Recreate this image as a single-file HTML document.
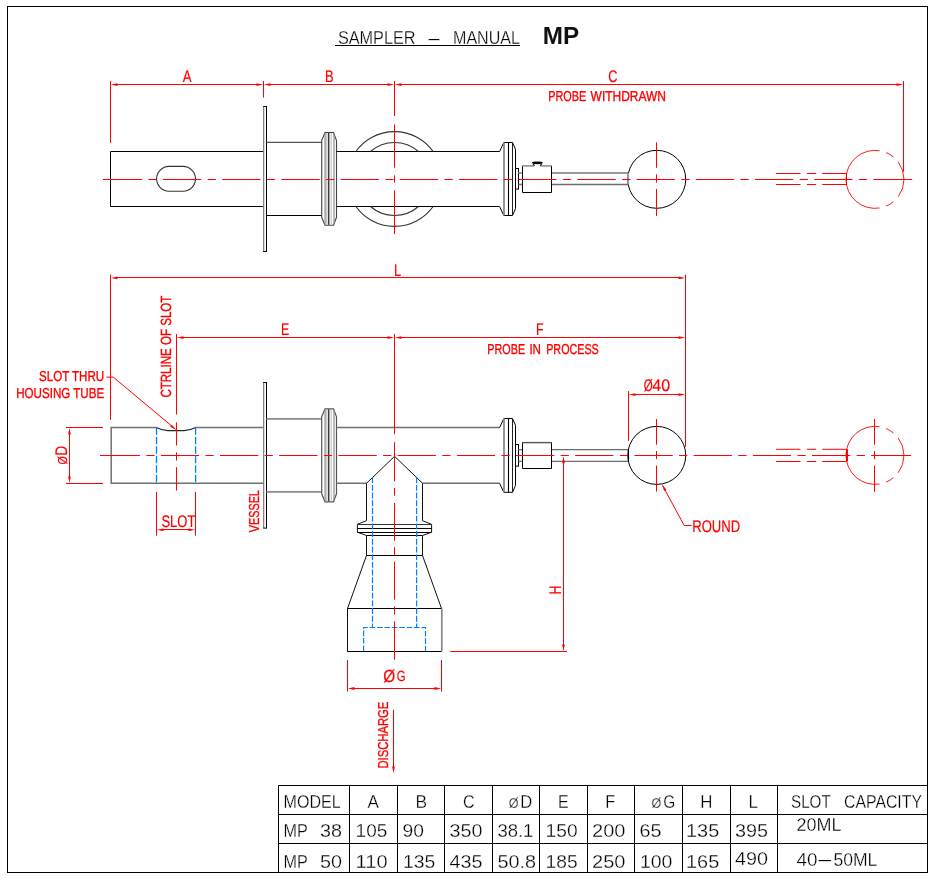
<!DOCTYPE html>
<html lang="en">
<head>
<meta charset="utf-8">
<title>Sampler - Manual MP</title>
<style>
html,body{margin:0;padding:0;background:#ffffff;}
body{width:934px;height:879px;overflow:hidden;}
svg{display:block;will-change:transform;}
svg text{font-family:"Liberation Sans",sans-serif;white-space:pre;}
.gp,.r{text-rendering:geometricPrecision;}
.gp{stroke:#ff0000;stroke-width:0.2px;}
.r{stroke:#ff0000;stroke-width:0.35px;}
.thin{stroke:#ffffff;stroke-width:0.3px;}
</style>
</head>
<body>
<svg width="934" height="879" viewBox="0 0 934 879">
<rect x="0" y="0" width="934" height="879" fill="#ffffff"/>
<rect x="7.5" y="6.5" width="920" height="866" fill="none" stroke="#000000" stroke-width="1"/>
<text class="thin" font-size="19.0" fill="#000000"><tspan x="337.9" y="44.1" textLength="77.6" lengthAdjust="spacingAndGlyphs">SAMPLER</tspan> <tspan x="428.6" y="43.5" textLength="11" lengthAdjust="spacingAndGlyphs">–</tspan> <tspan x="453" y="44.1" textLength="67" lengthAdjust="spacingAndGlyphs">MANUAL</tspan></text>
<line x1="335" y1="45.5" x2="520" y2="45.5" stroke="#000000" stroke-width="1"/>
<text x="542.7" y="44.4" font-size="24" fill="#111111" textLength="36.4" lengthAdjust="spacingAndGlyphs" font-weight="bold">MP</text>
<path d="M263.5 151.5H110.5V206.5H263.5" stroke="#000000" stroke-width="1" fill="none"/>
<rect x="156.6" y="166.4" width="38.9" height="24.9" rx="12.45" ry="12.45" fill="none" stroke="#333" stroke-width="1.1"/>
<rect x="263.7" y="106.5" width="2.8" height="145" fill="#fff" stroke="none"/>
<path d="M263.7 106.5V251.5" stroke="#707070" stroke-width="1.1" fill="none"/>
<path d="M263.2 106.5H267 M263.2 251.5H267 M266.5 106.5V251.5" stroke="#000000" stroke-width="1" fill="none"/>
<line x1="266.5" y1="142.4" x2="321.7" y2="142.4" stroke="#555" stroke-width="1.2"/>
<line x1="266.5" y1="215.5" x2="321.7" y2="215.5" stroke="#000000" stroke-width="1"/>
<path d="M321.7 140.5L325 132.5H333.5L336.5 140.5V217.3L333.5 225.3H325L321.7 217.3Z" stroke="#444" stroke-width="1.1" fill="#fff"/>
<path d="M325.1 133.0V224.8" stroke="#8a8a8a" stroke-width="1.2" fill="none"/>
<path d="M326.8 133.0V224.8" stroke="#bbbbbb" stroke-width="1" fill="none"/>
<path d="M328.7 133.0V224.8" stroke="#3a3a3a" stroke-width="1.5" fill="none"/>
<path d="M331.2 133.0V224.8" stroke="#bbbbbb" stroke-width="1" fill="none"/>
<path d="M334.0 133.0V224.8" stroke="#8a8a8a" stroke-width="1.2" fill="none"/>
<line x1="336.5" y1="151.5" x2="499.6" y2="151.5" stroke="#000000" stroke-width="1"/>
<line x1="336.5" y1="206.5" x2="499.6" y2="206.5" stroke="#000000" stroke-width="1"/>
<path d="M499.6 151.5L503.8 142.5 M499.6 206.5L503.8 215.5" stroke="#000000" stroke-width="1" fill="none"/>
<path d="M503.8 142.5H512.5L515.5 149.3V208.7L512.5 215.5H503.8" stroke="#000000" stroke-width="1" fill="none"/>
<path d="M504.0 142.5V215.5" stroke="#8a8a8a" stroke-width="1.8" fill="none"/>
<path d="M508.5 142.5V215.5" stroke="#000000" stroke-width="1.1" fill="none"/>
<path d="M512.5 142.5V215.5" stroke="#222" stroke-width="1" fill="none"/>
<rect x="515.5" y="168.5" width="3" height="20.6" fill="#fff" stroke="#000000" stroke-width="1"/>
<path d="M518.5 173.05H522.5 M551.5 173.05H628.6" stroke="#999999" stroke-width="1.9" fill="none"/>
<path d="M518.5 184.6H522.5 M551.5 184.6H628.6" stroke="#6e6e6e" stroke-width="1.5" fill="none"/>
<path d="M522.5 165.7V192.5H551.5V165.7" stroke="#000000" stroke-width="1" fill="none"/>
<path d="M522.5 165.85H534.2 M540.2 165.85H551.5" stroke="#999999" stroke-width="1.9" fill="none"/>
<ellipse cx="537.35" cy="162.85" rx="5.5" ry="1.35" fill="#000"/>
<path d="M532.9 163.6L534.5 165.7 M541.8 163.6L540.1 165.7" stroke="#111" stroke-width="1.1" fill="none"/>
<circle cx="656.75" cy="179.3" r="29" fill="none" stroke="#000" stroke-width="1"/>
<path d="M628.2 173V184.6" stroke="#999999" stroke-width="1.8" fill="none"/>
<path d="M355.89 151.5A47.4 47.4 0 0 1 433.11 151.5" stroke="#333" stroke-width="1.1" fill="none"/>
<path d="M355.89 206.5A47.4 47.4 0 0 0 433.11 206.5" stroke="#333" stroke-width="1.1" fill="none"/>
<path d="M370.50 151.5A36.5 36.5 0 0 1 418.50 151.5" stroke="#333" stroke-width="1.1" fill="none"/>
<path d="M370.50 206.5A36.5 36.5 0 0 0 418.50 206.5" stroke="#333" stroke-width="1.1" fill="none"/>
<path d="M103 179.5H142.1 M148.5 179.5H156.7 M163.0 179.5H201.3 M207.7 179.5H215.9 M222.2 179.5H260.5 M266.9 179.5H275.1 M281.4 179.5H319.7 M326.1 179.5H334.3 M340.6 179.5H378.9 M385.3 179.5H393.5 M399.8 179.5H438.1 M444.5 179.5H452.7 M459.0 179.5H497.3 M503.7 179.5H511.9 M518.2 179.5H556.5 M562.9 179.5H571.1 M577.4 179.5H615.7 M622.1 179.5H630.3 M636.6 179.5H674.9 M681.3 179.5H689.5 M695.8 179.5H734.1 M740.5 179.5H748.7 M755.0 179.5H793.3 M799.7 179.5H807.9 M814.2 179.5H852.5 M858.9 179.5H867.1 M873.4 179.5H912.2" stroke="#ff0000" stroke-width="1" fill="none"/>
<path d="M394.5 124.5V167.7 M394.5 175.4V182.6 M394.5 190.3V234" stroke="#ff0000" stroke-width="1" fill="none"/>
<path d="M656.5 142.3V167.8 M656.5 174.4V182.6 M656.5 189V216" stroke="#ff0000" stroke-width="1" fill="none"/>
<path d="M776.1 173.5H800.5 M806.9 173.5H816.2 M822.2 173.5H846.3" stroke="#ff0000" stroke-width="1" fill="none"/>
<path d="M776.1 184.5H800.5 M806.9 184.5H816.2 M822.2 184.5H846.3" stroke="#ff0000" stroke-width="1" fill="none"/>
<path d="M879.54 150.71A29.0 29.0 0 1 0 879.54 207.99 M898.16 196.80A29.0 29.0 0 0 0 898.16 161.90 M893.45 156.97A29.0 29.0 0 0 0 886.10 152.56 M886.10 206.14A29.0 29.0 0 0 0 893.45 201.73" stroke="#ff0000" stroke-width="0.9" fill="none"/>
<path d="M846.5 173V185" stroke="#ff0000" stroke-width="1" fill="none"/>
<line x1="116.5" y1="84.5" x2="257.5" y2="84.5" stroke="#ff0000" stroke-width="1"/>
<polygon points="110.90,84.60 117.50,83.20 117.50,86.00" fill="#ff0000"/>
<polygon points="263.10,84.60 256.50,86.00 256.50,83.20" fill="#ff0000"/>
<line x1="269.5" y1="84.5" x2="388.5" y2="84.5" stroke="#ff0000" stroke-width="1"/>
<polygon points="263.90,84.60 270.50,83.20 270.50,86.00" fill="#ff0000"/>
<polygon points="394.10,84.60 387.50,86.00 387.50,83.20" fill="#ff0000"/>
<line x1="400.5" y1="84.5" x2="897.5" y2="84.5" stroke="#ff0000" stroke-width="1"/>
<polygon points="394.90,84.60 401.50,83.20 401.50,86.00" fill="#ff0000"/>
<polygon points="903.10,84.60 896.50,86.00 896.50,83.20" fill="#ff0000"/>
<path d="M110.5 81V143" stroke="#ff0000" stroke-width="1" fill="none"/>
<path d="M263.5 81V97.5" stroke="#ff0000" stroke-width="1" fill="none"/>
<path d="M394.5 81V116" stroke="#ff0000" stroke-width="1" fill="none"/>
<path d="M903.5 81V171.7" stroke="#ff0000" stroke-width="1" fill="none"/>
<text x="187.2" y="82.0" font-size="16.8" fill="#ff0000" class="gp" text-anchor="middle" textLength="8.8" lengthAdjust="spacingAndGlyphs">A</text>
<text x="329.2" y="82.0" font-size="16.8" fill="#ff0000" class="gp" text-anchor="middle" textLength="8.6" lengthAdjust="spacingAndGlyphs">B</text>
<text x="612.9" y="82.0" font-size="16.8" fill="#ff0000" class="gp" text-anchor="middle" textLength="9.2" lengthAdjust="spacingAndGlyphs">C</text>
<text class="r" y="100.6" font-size="14.4" fill="#ff0000"><tspan x="548.2" textLength="38" lengthAdjust="spacingAndGlyphs">PROBE</tspan> <tspan x="590.6" textLength="75.4" lengthAdjust="spacingAndGlyphs">WITHDRAWN</tspan></text>
<path d="M263.5 427.6H195.7 M156.3 427.6H111.2V483.3H263.5" stroke="#707070" stroke-width="1.5" fill="none"/>
<path d="M156.3 427.6C160 429.5 164 430.65000000000003 168 430.65000000000003H184C188 430.65000000000003 192 429.5 195.7 427.6" stroke="#222" stroke-width="1.1" fill="none"/>
<rect x="263.7" y="382.5" width="2.8" height="145.6" fill="#fff" stroke="none"/>
<path d="M263.7 382.5V528.1" stroke="#707070" stroke-width="1.1" fill="none"/>
<path d="M263.2 382.5H267 M263.2 528.1H267 M266.5 382.5V528.1" stroke="#000000" stroke-width="1" fill="none"/>
<line x1="266.5" y1="418.95" x2="321.7" y2="418.95" stroke="#8a8a8a" stroke-width="1.7"/>
<line x1="266.5" y1="491.9" x2="321.7" y2="491.9" stroke="#8a8a8a" stroke-width="1.7"/>
<path d="M321.7 416.8L325 408.8H333.5L336.5 416.8V493.8L333.5 501.8H325L321.7 493.8Z" stroke="#555" stroke-width="1.2" fill="#fff"/>
<path d="M325.1 409.3V501.3" stroke="#8a8a8a" stroke-width="1.2" fill="none"/>
<path d="M326.8 409.3V501.3" stroke="#bbbbbb" stroke-width="1" fill="none"/>
<path d="M328.7 409.3V501.3" stroke="#3a3a3a" stroke-width="1.5" fill="none"/>
<path d="M331.2 409.3V501.3" stroke="#bbbbbb" stroke-width="1" fill="none"/>
<path d="M334.0 409.3V501.3" stroke="#8a8a8a" stroke-width="1.2" fill="none"/>
<line x1="336.5" y1="427.6" x2="499.6" y2="427.6" stroke="#707070" stroke-width="1.5"/>
<path d="M336.5 483.3H366.5 M422.5 483.3H499.6" stroke="#707070" stroke-width="1.5" fill="none"/>
<path d="M499.6 427.6L503.8 418.5 M499.6 483.3L503.8 492.3" stroke="#000000" stroke-width="1" fill="none"/>
<path d="M503.8 418.5H512.5L515.5 425.3V485.5L512.5 492.3H503.8" stroke="#000000" stroke-width="1" fill="none"/>
<path d="M504.0 418.5V492.3" stroke="#8a8a8a" stroke-width="1.8" fill="none"/>
<path d="M508.5 418.5V492.3" stroke="#000000" stroke-width="1.1" fill="none"/>
<path d="M512.5 418.5V492.3" stroke="#222" stroke-width="1" fill="none"/>
<rect x="515.5" y="444.5" width="3" height="21.6" fill="#fff" stroke="#000000" stroke-width="1"/>
<path d="M518.5 449.65H522.5 M551.5 449.65H628.2" stroke="#6e6e6e" stroke-width="1.3" fill="none"/>
<path d="M518.5 461.4H522.5 M551.5 461.4H628.2" stroke="#6e6e6e" stroke-width="1.3" fill="none"/>
<path d="M522.5 442.6V468.5H551.5V442.6" stroke="#000000" stroke-width="1" fill="none"/>
<path d="M522 442.6H552" stroke="#555" stroke-width="1.4" fill="none"/>
<circle cx="656.75" cy="455.4" r="29" fill="none" stroke="#000" stroke-width="1"/>
<path d="M366.5 483.3L394.6 456.3L422.6 483.3" stroke="#111" stroke-width="1" fill="none"/>
<path d="M366.5 483.3V520.7L357.4 524.3V532.2L366.5 535.5V555.5L347.5 608.5V651.5H441.5M441.5 608.5L422.5 555.5V535.5L431.6 532.2V524.3L422.5 520.7V483.3" stroke="#111" stroke-width="1" fill="none"/>
<path d="M357.4 524.5H431.6" stroke="#333" stroke-width="1" fill="none"/>
<path d="M357.4 528.5H431.6" stroke="#000000" stroke-width="1" fill="none"/>
<path d="M357.4 532.5H431.6" stroke="#000000" stroke-width="1" fill="none"/>
<path d="M366.5 535.5H422.5" stroke="#000000" stroke-width="1" fill="none"/>
<path d="M366.5 555.5H422.5" stroke="#000000" stroke-width="1" fill="none"/>
<path d="M347.5 608.5H441.5" stroke="#000000" stroke-width="1" fill="none"/>
<path d="M347.5 651.5H441.5" stroke="#000000" stroke-width="1" fill="none"/>
<path d="M441.8 608.5V651.5" stroke="#8a8a8a" stroke-width="1.7" fill="none"/>
<line x1="156.5" y1="427.2" x2="156.5" y2="483.3" stroke="#0080ff" stroke-width="1.3" stroke-dasharray="7.5 2"/>
<line x1="195.6" y1="427.2" x2="195.6" y2="483.3" stroke="#0080ff" stroke-width="1.3" stroke-dasharray="7.5 2"/>
<line x1="372.5" y1="477.2" x2="372.5" y2="627.5" stroke="#0080ff" stroke-width="1.2" stroke-dasharray="5.9 1.8"/>
<line x1="416.6" y1="477.2" x2="416.6" y2="627.5" stroke="#0080ff" stroke-width="1.2" stroke-dasharray="5.9 1.8"/>
<path d="M363.6 651V627.5H425.5V651" stroke="#0080ff" stroke-width="1.2" fill="none" stroke-dasharray="5.6 1.8"/>
<path d="M100 455.5H139.9 M146.3 455.5H154.5 M160.8 455.5H199.1 M205.5 455.5H213.7 M220.0 455.5H258.3 M264.7 455.5H272.9 M279.2 455.5H317.5 M323.9 455.5H332.1 M338.4 455.5H376.7 M383.1 455.5H391.3 M397.6 455.5H435.9 M442.3 455.5H450.5 M456.8 455.5H495.1 M501.5 455.5H509.7 M516.0 455.5H554.3 M560.7 455.5H568.9 M575.2 455.5H613.5 M619.9 455.5H628.1 M634.4 455.5H672.7 M679.1 455.5H687.3 M693.6 455.5H731.9 M738.3 455.5H746.5 M752.8 455.5H791.1 M797.5 455.5H805.7 M812.0 455.5H850.3 M856.7 455.5H864.9 M871.2 455.5H911.2" stroke="#ff0000" stroke-width="1" fill="none"/>
<path d="M176.5 422.4V445.5 M176.5 452.3V460.6 M176.5 467.2V490.5" stroke="#ff0000" stroke-width="1" fill="none"/>
<path d="M394.5 442.2V481.3 M394.5 487.9V495.6 M394.5 503V540.7 M394.5 547.3V555 M394.5 561.8V599.6 M394.5 606.4V614.6 M394.5 621.4V659.7" stroke="#ff0000" stroke-width="1" fill="none"/>
<path d="M656.5 419V444.7 M656.5 451V459.2 M656.5 465.6V491.6" stroke="#ff0000" stroke-width="1" fill="none"/>
<path d="M874.5 419V444.7 M874.5 451.1V459.2 M874.5 465.6V491.8" stroke="#ff0000" stroke-width="1" fill="none"/>
<path d="M628.5 449.1V462" stroke="#000000" stroke-width="1.1" fill="none"/>
<path d="M776.1 449.3H800.5 M806.9 449.3H816.2 M822.2 449.3H846.3" stroke="#ff0000" stroke-width="1" fill="none"/>
<path d="M776.1 461.5H800.5 M806.9 461.5H816.2 M822.2 461.5H846.3" stroke="#ff0000" stroke-width="1" fill="none"/>
<path d="M879.54 426.71A29.0 29.0 0 1 0 879.54 483.99 M898.16 472.80A29.0 29.0 0 0 0 898.16 437.90 M893.45 432.97A29.0 29.0 0 0 0 886.10 428.56 M886.10 482.14A29.0 29.0 0 0 0 893.45 477.73" stroke="#ff0000" stroke-width="0.9" fill="none"/>
<path d="M847 449.2V461.6" stroke="#ff0000" stroke-width="2" fill="none"/>
<line x1="116.5" y1="277.5" x2="679.5" y2="277.5" stroke="#ff0000" stroke-width="1"/>
<polygon points="110.90,277.90 117.50,276.50 117.50,279.30" fill="#ff0000"/>
<polygon points="685.10,277.90 678.50,279.30 678.50,276.50" fill="#ff0000"/>
<path d="M110.5 274.6V419.7" stroke="#ff0000" stroke-width="1" fill="none"/>
<path d="M685.5 274.6V446.9" stroke="#ff0000" stroke-width="1" fill="none"/>
<text x="397.6" y="275.6" font-size="16.8" fill="#ff0000" class="gp" text-anchor="middle" textLength="7.2" lengthAdjust="spacingAndGlyphs">L</text>
<line x1="182.5" y1="337.5" x2="388.5" y2="337.5" stroke="#ff0000" stroke-width="1"/>
<polygon points="176.90,337.60 183.50,336.20 183.50,339.00" fill="#ff0000"/>
<polygon points="394.10,337.60 387.50,339.00 387.50,336.20" fill="#ff0000"/>
<line x1="400.5" y1="337.5" x2="679.5" y2="337.5" stroke="#ff0000" stroke-width="1"/>
<polygon points="394.90,337.60 401.50,336.20 401.50,339.00" fill="#ff0000"/>
<polygon points="685.10,337.60 678.50,339.00 678.50,336.20" fill="#ff0000"/>
<path d="M176.5 334V414.5" stroke="#ff0000" stroke-width="1" fill="none"/>
<path d="M394.5 334V434.2" stroke="#ff0000" stroke-width="1" fill="none"/>
<text x="285.1" y="335.3" font-size="16.8" fill="#ff0000" class="gp" text-anchor="middle" textLength="8.2" lengthAdjust="spacingAndGlyphs">E</text>
<text x="539.8" y="335.3" font-size="16.8" fill="#ff0000" class="gp" text-anchor="middle" textLength="7.6" lengthAdjust="spacingAndGlyphs">F</text>
<text class="r" y="354.1" font-size="14.4" fill="#ff0000"><tspan x="487.3" textLength="37.8" lengthAdjust="spacingAndGlyphs">PROBE</tspan> <tspan x="529.4" textLength="11.6" lengthAdjust="spacingAndGlyphs">IN</tspan> <tspan x="546.2" textLength="52.6" lengthAdjust="spacingAndGlyphs">PROCESS</tspan></text>
<text x="171.3" y="397.6" font-size="14.700000000000001" fill="#ff0000" class="r" textLength="102" lengthAdjust="spacingAndGlyphs" transform="rotate(-90 171.3 397.6)">CTRLINE OF SLOT</text>
<text x="104.2" y="381.3" font-size="14.4" fill="#ff0000" class="r" text-anchor="end" textLength="65.2" lengthAdjust="spacingAndGlyphs">SLOT THRU</text>
<text x="104.2" y="398.0" font-size="14.4" fill="#ff0000" class="r" text-anchor="end" textLength="88" lengthAdjust="spacingAndGlyphs">HOUSING TUBE</text>
<path d="M106.5 377.1H113.3L175.6 429.3" stroke="#ff0000" stroke-width="1" fill="none"/>
<polygon points="175.90,429.80 170.12,426.75 171.84,424.67" fill="#ff0000"/>
<path d="M66 427.5H103" stroke="#ff0000" stroke-width="1" fill="none"/>
<path d="M66 483.5H103" stroke="#ff0000" stroke-width="1" fill="none"/>
<line x1="69.5" y1="433.5" x2="69.5" y2="477.5" stroke="#ff0000" stroke-width="1"/>
<polygon points="69.50,427.90 70.90,434.50 68.10,434.50" fill="#ff0000"/>
<polygon points="69.50,483.10 68.10,476.50 70.90,476.50" fill="#ff0000"/>
<text class="gp" fill="#ff0000" transform="rotate(-90 67.2 464.6)"><tspan x="67.2" y="464.3" font-size="13" textLength="8.4" lengthAdjust="spacingAndGlyphs">Ø</tspan><tspan x="76.4" y="464.6" font-size="16.8" textLength="9.6" lengthAdjust="spacingAndGlyphs">D</tspan></text>
<path d="M156.5 491.9V535.6" stroke="#ff0000" stroke-width="1" fill="none"/>
<path d="M195.5 491.9V535.6" stroke="#ff0000" stroke-width="1" fill="none"/>
<line x1="162.5" y1="529.5" x2="189.5" y2="529.5" stroke="#ff0000" stroke-width="1"/>
<polygon points="156.90,529.80 163.50,528.40 163.50,531.20" fill="#ff0000"/>
<polygon points="195.10,529.80 188.50,531.20 188.50,528.40" fill="#ff0000"/>
<text x="161.4" y="527" font-size="16.8" fill="#ff0000" class="gp" textLength="34" lengthAdjust="spacingAndGlyphs">SLOT</text>
<text x="259.5" y="532.3" font-size="14.4" fill="#ff0000" class="r" textLength="42.2" lengthAdjust="spacingAndGlyphs" transform="rotate(-90 259.5 532.3)">VESSEL</text>
<line x1="634.5" y1="394.5" x2="679.5" y2="394.5" stroke="#ff0000" stroke-width="1"/>
<polygon points="628.90,394.60 635.50,393.20 635.50,396.00" fill="#ff0000"/>
<polygon points="685.10,394.60 678.50,396.00 678.50,393.20" fill="#ff0000"/>
<path d="M628.5 391.1V440.8" stroke="#ff0000" stroke-width="1" fill="none"/>
<text class="gp" y="390.8" font-size="16.8" fill="#ff0000"><tspan x="643.7" textLength="9" lengthAdjust="spacingAndGlyphs">Ø</tspan><tspan x="652.3" textLength="17.8" lengthAdjust="spacingAndGlyphs">40</tspan></text>
<path d="M662.4 485.2L684.2 525.5H691.6" stroke="#ff0000" stroke-width="1" fill="none"/>
<polygon points="662.20,484.70 666.43,489.69 664.06,490.97" fill="#ff0000"/>
<text x="692.2" y="531.6" font-size="16.8" fill="#ff0000" class="gp" textLength="48" lengthAdjust="spacingAndGlyphs">ROUND</text>
<line x1="563.5" y1="462.2" x2="563.5" y2="645.5" stroke="#ff0000" stroke-width="1"/>
<polygon points="563.50,456.60 564.90,463.20 562.10,463.20" fill="#ff0000"/>
<polygon points="563.50,651.10 562.10,644.50 564.90,644.50" fill="#ff0000"/>
<path d="M450.3 651.5H567" stroke="#ff0000" stroke-width="1" fill="none"/>
<text x="561" y="594.6" font-size="16.8" fill="#ff0000" class="gp" textLength="9" lengthAdjust="spacingAndGlyphs" transform="rotate(-90 561 594.6)">H</text>
<path d="M347.5 660V691.5" stroke="#ff0000" stroke-width="1" fill="none"/>
<path d="M441.5 660V691.5" stroke="#ff0000" stroke-width="1" fill="none"/>
<line x1="353.5" y1="688.5" x2="435.5" y2="688.5" stroke="#ff0000" stroke-width="1"/>
<polygon points="347.90,688.50 354.50,687.10 354.50,689.90" fill="#ff0000"/>
<polygon points="441.10,688.50 434.50,689.90 434.50,687.10" fill="#ff0000"/>
<text class="gp" fill="#ff0000"><tspan x="383.3" y="681.9" font-size="17.6" textLength="12" lengthAdjust="spacingAndGlyphs">Ø</tspan><tspan x="396.7" y="681.2" font-size="14.8" textLength="8.8" lengthAdjust="spacingAndGlyphs">G</tspan></text>
<text x="387.9" y="768.5" font-size="14.4" fill="#ff0000" class="r" textLength="66.8" lengthAdjust="spacingAndGlyphs" transform="rotate(-90 387.9 768.5)">DISCHARGE</text>
<path d="M393.5 709.8V767.2" stroke="#ff0000" stroke-width="1" fill="none"/>
<polygon points="393.50,773.20 392.10,766.60 394.90,766.60" fill="#ff0000"/>
<line x1="278.5" y1="785.5" x2="278.5" y2="872.5" stroke="#000000" stroke-width="1"/>
<line x1="349.5" y1="785.5" x2="349.5" y2="872.5" stroke="#000000" stroke-width="1"/>
<line x1="397.5" y1="785.5" x2="397.5" y2="872.5" stroke="#000000" stroke-width="1"/>
<line x1="444.5" y1="785.5" x2="444.5" y2="872.5" stroke="#000000" stroke-width="1"/>
<line x1="492.5" y1="785.5" x2="492.5" y2="872.5" stroke="#000000" stroke-width="1"/>
<line x1="539.5" y1="785.5" x2="539.5" y2="872.5" stroke="#000000" stroke-width="1"/>
<line x1="587.5" y1="785.5" x2="587.5" y2="872.5" stroke="#000000" stroke-width="1"/>
<line x1="634.5" y1="785.5" x2="634.5" y2="872.5" stroke="#000000" stroke-width="1"/>
<line x1="682.5" y1="785.5" x2="682.5" y2="872.5" stroke="#000000" stroke-width="1"/>
<line x1="730.5" y1="785.5" x2="730.5" y2="872.5" stroke="#000000" stroke-width="1"/>
<line x1="777.5" y1="785.5" x2="777.5" y2="872.5" stroke="#000000" stroke-width="1"/>
<line x1="278.5" y1="785.5" x2="927.5" y2="785.5" stroke="#000000" stroke-width="1"/>
<line x1="278.5" y1="814.5" x2="927.5" y2="814.5" stroke="#000000" stroke-width="1"/>
<line x1="278.5" y1="843.5" x2="927.5" y2="843.5" stroke="#000000" stroke-width="1"/>
<text x="283.6" y="808.1" font-size="19.0" fill="#000000" textLength="57" lengthAdjust="spacingAndGlyphs" class="thin">MODEL</text>
<text x="367.6" y="808.1" font-size="19.0" fill="#000000" textLength="11.4" lengthAdjust="spacingAndGlyphs" class="thin">A</text>
<text x="415.6" y="808.1" font-size="19.0" fill="#000000" textLength="11.6" lengthAdjust="spacingAndGlyphs" class="thin">B</text>
<text x="463.0" y="808.1" font-size="19.0" fill="#000000" textLength="11.6" lengthAdjust="spacingAndGlyphs" class="thin">C</text>
<text class="thin" y="808.1" fill="#000000"><tspan x="508.8" font-size="14.6" textLength="9.8" lengthAdjust="spacingAndGlyphs">Ø</tspan><tspan x="520.2" font-size="19.0" textLength="12" lengthAdjust="spacingAndGlyphs">D</tspan></text>
<text x="558" y="808.1" font-size="19.0" fill="#000000" textLength="10.6" lengthAdjust="spacingAndGlyphs" class="thin">E</text>
<text x="605.2" y="808.1" font-size="19.0" fill="#000000" textLength="10" lengthAdjust="spacingAndGlyphs" class="thin">F</text>
<text class="thin" y="808.1" fill="#000000"><tspan x="651.6" font-size="14.6" textLength="9.8" lengthAdjust="spacingAndGlyphs">Ø</tspan><tspan x="663.2" font-size="19.0" textLength="12" lengthAdjust="spacingAndGlyphs">G</tspan></text>
<text x="700.2" y="808.1" font-size="19.0" fill="#000000" textLength="12.2" lengthAdjust="spacingAndGlyphs" class="thin">H</text>
<text x="748.4" y="808.1" font-size="19.0" fill="#000000" textLength="9.4" lengthAdjust="spacingAndGlyphs" class="thin">L</text>
<text class="thin" y="808.1" font-size="19.0" fill="#000000"><tspan x="791" textLength="39.4" lengthAdjust="spacingAndGlyphs">SLOT</tspan> <tspan x="844" textLength="78" lengthAdjust="spacingAndGlyphs">CAPACITY</tspan></text>
<text class="thin" y="837.2" font-size="19.0" fill="#000000"><tspan x="283.6" textLength="24" lengthAdjust="spacingAndGlyphs">MP</tspan> <tspan x="320" textLength="22" lengthAdjust="spacingAndGlyphs">38</tspan></text>
<text x="735" y="836.6" font-size="19.0" fill="#000000" textLength="33" lengthAdjust="spacingAndGlyphs" class="thin">395</text>
<text x="355.6" y="837.2" font-size="19.0" fill="#000000" textLength="31.6" lengthAdjust="spacingAndGlyphs" class="thin">105</text>
<text x="402.6" y="837.2" font-size="19.0" fill="#000000" textLength="21.4" lengthAdjust="spacingAndGlyphs" class="thin">90</text>
<text x="449.6" y="837.2" font-size="19.0" fill="#000000" textLength="33" lengthAdjust="spacingAndGlyphs" class="thin">350</text>
<text x="497.4" y="837.2" font-size="19.0" fill="#000000" textLength="36" lengthAdjust="spacingAndGlyphs" class="thin">38.1</text>
<text x="545.6" y="837.2" font-size="19.0" fill="#000000" textLength="32" lengthAdjust="spacingAndGlyphs" class="thin">150</text>
<text x="592" y="837.2" font-size="19.0" fill="#000000" textLength="33.4" lengthAdjust="spacingAndGlyphs" class="thin">200</text>
<text x="639.6" y="837.2" font-size="19.0" fill="#000000" textLength="22" lengthAdjust="spacingAndGlyphs" class="thin">65</text>
<text x="686" y="837.2" font-size="19.0" fill="#000000" textLength="33.2" lengthAdjust="spacingAndGlyphs" class="thin">135</text>
<text x="796.6" y="830.6" font-size="19.0" fill="#000000" textLength="45" lengthAdjust="spacingAndGlyphs" class="thin">20ML</text>
<text class="thin" y="867.8" font-size="19.0" fill="#000000"><tspan x="283.6" textLength="24" lengthAdjust="spacingAndGlyphs">MP</tspan> <tspan x="320" textLength="22" lengthAdjust="spacingAndGlyphs">50</tspan></text>
<text x="735" y="865.1999999999999" font-size="19.0" fill="#000000" textLength="33" lengthAdjust="spacingAndGlyphs" class="thin">490</text>
<text x="355.6" y="867.8" font-size="19.0" fill="#000000" textLength="32" lengthAdjust="spacingAndGlyphs" class="thin">110</text>
<text x="403" y="867.8" font-size="19.0" fill="#000000" textLength="32.4" lengthAdjust="spacingAndGlyphs" class="thin">135</text>
<text x="449.6" y="867.8" font-size="19.0" fill="#000000" textLength="33" lengthAdjust="spacingAndGlyphs" class="thin">435</text>
<text x="497.4" y="867.8" font-size="19.0" fill="#000000" textLength="38.6" lengthAdjust="spacingAndGlyphs" class="thin">50.8</text>
<text x="545.6" y="867.8" font-size="19.0" fill="#000000" textLength="32" lengthAdjust="spacingAndGlyphs" class="thin">185</text>
<text x="592" y="867.8" font-size="19.0" fill="#000000" textLength="33.4" lengthAdjust="spacingAndGlyphs" class="thin">250</text>
<text x="640" y="867.8" font-size="19.0" fill="#000000" textLength="32.4" lengthAdjust="spacingAndGlyphs" class="thin">100</text>
<text x="686" y="867.8" font-size="19.0" fill="#000000" textLength="33.2" lengthAdjust="spacingAndGlyphs" class="thin">165</text>
<text class="thin" y="866.1" font-size="19.0" fill="#000000"><tspan x="796.6" textLength="21" lengthAdjust="spacingAndGlyphs">40</tspan><tspan x="818.2" y="864.9" textLength="13" lengthAdjust="spacingAndGlyphs">–</tspan><tspan x="833.4" y="866.1" textLength="44" lengthAdjust="spacingAndGlyphs">50ML</tspan></text>
</svg>
</body>
</html>
